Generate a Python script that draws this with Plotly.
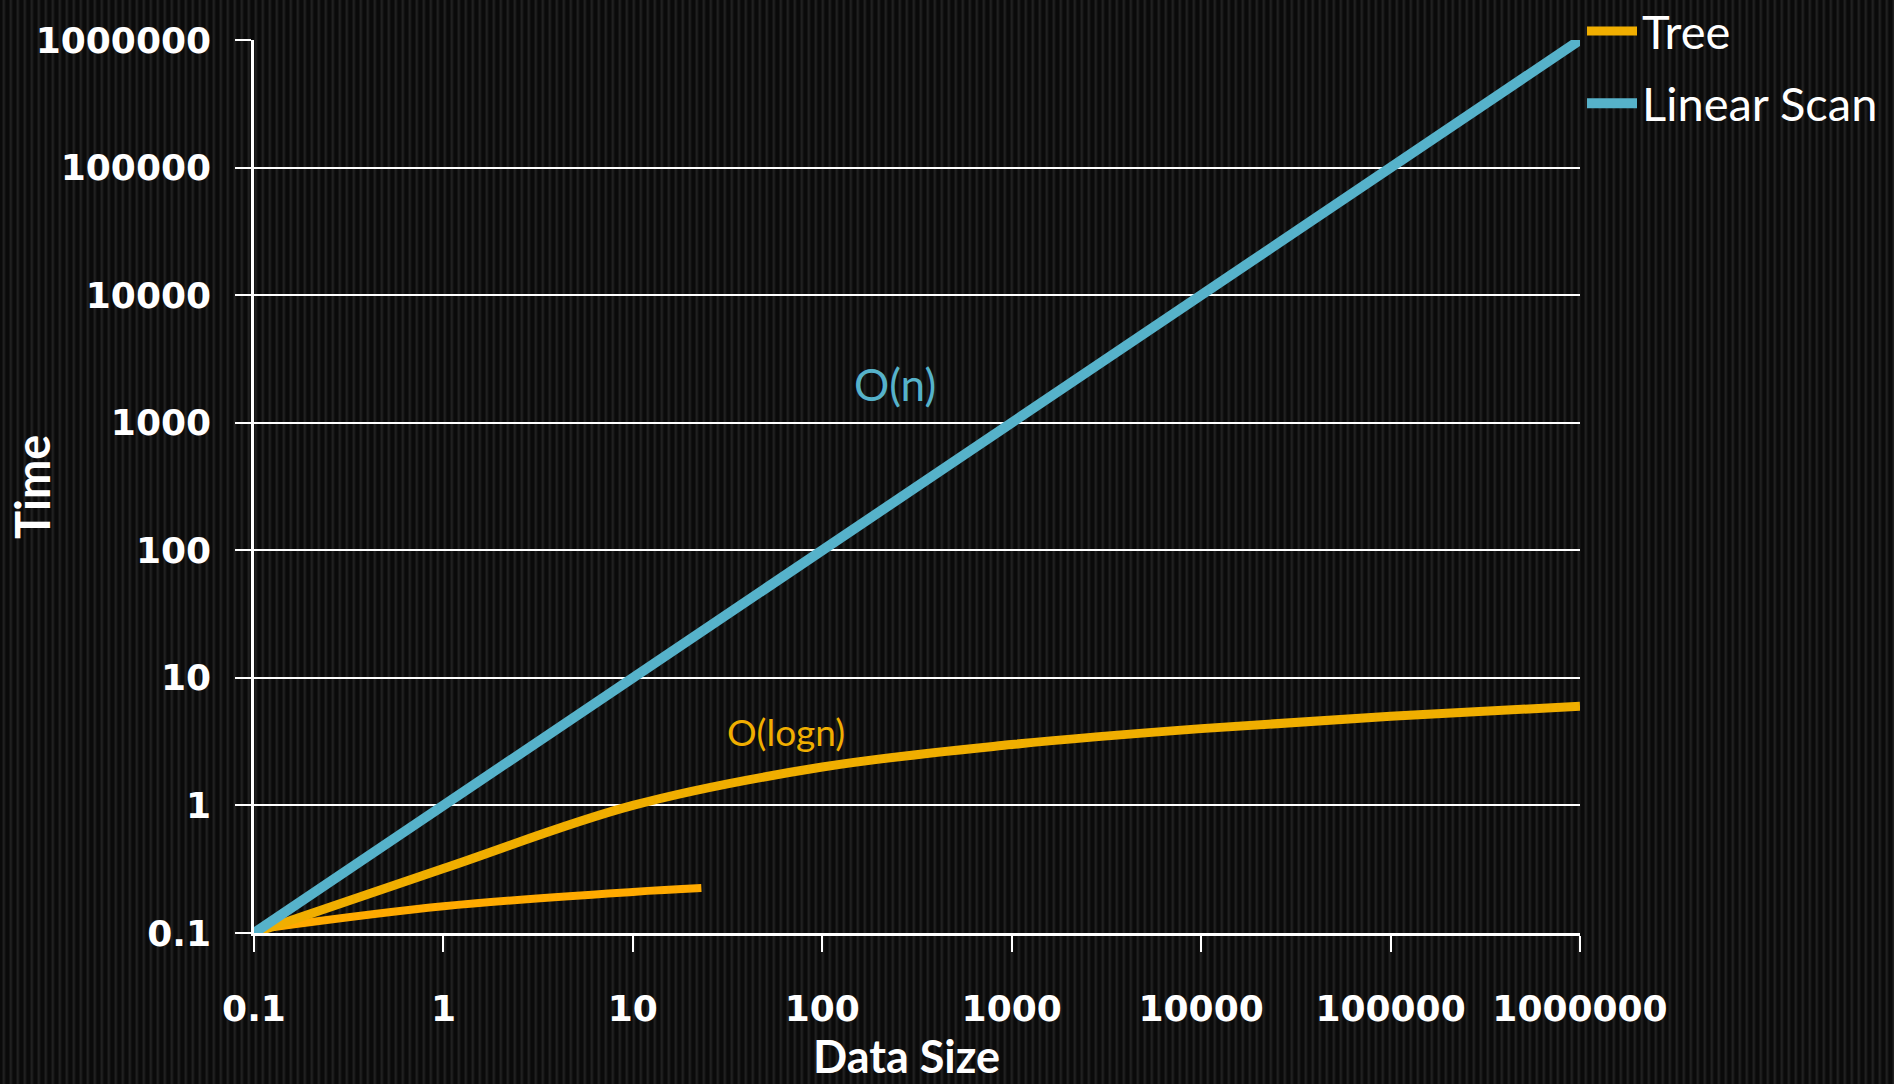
import base64
import plotly.graph_objects as go

# ---------------- data ----------------
tree_x = [0.1, 1, 10, 100, 1000, 10000, 100000, 1000000]
tree_y = [0.1, 0.32, 1, 2, 3, 4, 5, 6]

linear_x = [0.1, 1000000]
linear_y = [0.1, 1000000]

tree_low_x = [0.125, 1, 10, 23]
tree_low_y = [0.111, 0.162, 0.21, 0.225]

tick_vals = [0.1, 1, 10, 100, 1000, 10000, 100000, 1000000]
tick_text = ["0.1", "1", "10", "100", "1000", "10000", "100000", "1000000"]

# ---------------- geometry ----------------
W, H = 1894, 1084
L, R, T, B = 254, 314, 40, 151
PW, PH = W - L - R, H - T - B


def px(x):
    return (x - L) / PW


def py(y):
    return (H - B - y) / PH


ORANGE = "#F0AE00"
ORANGE2 = "#FFAA00"
BLUE = "#56B2CA"

# striped background texture
cols = ["#0a0a0a", "#0a0a0a", "#141414", "#202020", "#1b1b1b", "#101010", "#0a0a0a"]
rects = "".join(
    f'<rect x="{i}" y="0" width="1" height="10" fill="{c}"/>' for i, c in enumerate(cols)
)
svg = (
    f'<svg xmlns="http://www.w3.org/2000/svg" width="{W}" height="{H}">'
    f'<defs><pattern id="p" width="{len(cols)}" height="10" patternUnits="userSpaceOnUse">{rects}</pattern></defs>'
    f'<rect width="{W}" height="{H}" fill="url(#p)"/></svg>'
)
bg_src = "data:image/svg+xml;base64," + base64.b64encode(svg.encode()).decode()

fig = go.Figure()

fig.add_trace(go.Scatter(
    x=tree_low_x, y=tree_low_y, mode="lines", showlegend=False,
    line=dict(color=ORANGE2, width=8, shape="spline"), hoverinfo="skip",
))
fig.add_trace(go.Scatter(
    x=tree_x, y=tree_y, mode="lines", name="Tree", legendgroup="a",
    line=dict(color=ORANGE, width=9, shape="spline", smoothing=1.0),
))
fig.add_trace(go.Scatter(
    x=linear_x, y=linear_y, mode="lines", name="Linear Scan", legendgroup="b",
    line=dict(color=BLUE, width=10),
))

axis_common = dict(
    type="log", range=[-1, 6], tickmode="array", tickvals=tick_vals, ticktext=tick_text,
    showline=True, linecolor="white", linewidth=2.5,
    ticks="outside", ticklen=16, tickwidth=2, tickcolor="white",
    tickfont=dict(family="DejaVu Sans", size=36, color="white", weight="bold"),
    zeroline=False,
)

fig.update_xaxes(**axis_common, showgrid=False, ticklabelstandoff=26)
fig.update_yaxes(**axis_common, showgrid=True, gridcolor="white", gridwidth=2,
                 ticklabelstandoff=17)

fig.update_layout(
    width=W, height=H,
    margin=dict(l=L, r=R, t=T, b=B, pad=0, autoexpand=False),
    paper_bgcolor="#121212",
    plot_bgcolor="rgba(0,0,0,0)",
    images=[dict(source=bg_src, xref="paper", yref="paper",
                 x=px(0), y=py(0), sizex=W / PW, sizey=H / PH,
                 xanchor="left", yanchor="top", sizing="stretch", layer="below")],
    legend=dict(
        x=px(1582), y=py(-6), xanchor="left", yanchor="top",
        font=dict(family="Lato", size=47, color="white"),
        bgcolor="rgba(0,0,0,0)", traceorder="grouped", tracegroupgap=8,
        itemwidth=50,
    ),
    annotations=[
        dict(text="O(n)", x=px(895), y=py(384), xref="paper", yref="paper",
             xanchor="center", yanchor="middle",
             showarrow=False, font=dict(family="Lato", size=44, color=BLUE)),
        dict(text="O(logn)", x=px(786), y=py(731), xref="paper", yref="paper",
             xanchor="center", yanchor="middle",
             showarrow=False, font=dict(family="Lato", size=37, color=ORANGE)),
        dict(text="Time", x=px(32), y=py(487), xref="paper", yref="paper",
             xanchor="center", yanchor="middle",
             textangle=-90, showarrow=False,
             font=dict(family="Lato", size=47, color="white", weight="bold")),
        dict(text="Data Size", x=px(906), y=py(1056), xref="paper", yref="paper",
             xanchor="center", yanchor="middle",
             showarrow=False,
             font=dict(family="Lato", size=45, color="white", weight="bold")),
    ],
)

fig.write_html(
    "out.html",
    config={"displayModeBar": False},
    post_script="document.body.style.margin='0';document.body.style.overflow='hidden';",
)
